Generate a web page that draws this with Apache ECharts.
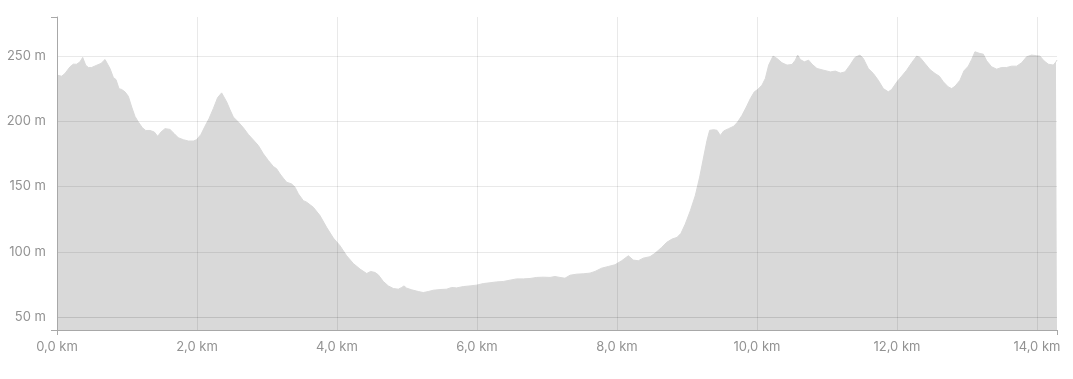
<!DOCTYPE html>
<html>
<head>
<meta charset="utf-8">
<script src="https://cdn.jsdelivr.net/npm/echarts@6/dist/echarts.min.js"></script>
<style>
  html, body { margin: 0; padding: 0; background: #fff; }
  #chart { width: 1073px; height: 379px; }
</style>
</head>
<body>
<div id="chart"></div>
<script>
// Distance along route (km)
var distanceKm = [
  0, 0.067, 0.114, 0.186, 0.233, 0.281, 0.329, 0.367, 0.41, 0.448, 0.495, 0.567, 0.629, 0.686, 0.71, 0.757,
  0.805, 0.843, 0.886, 0.924, 0.971, 1.019, 1.067, 1.114, 1.162, 1.219, 1.267, 1.329, 1.39, 1.438, 1.486,
  1.543, 1.614, 1.676, 1.733, 1.805, 1.876, 1.948, 1.995, 2.057, 2.114, 2.171, 2.233, 2.295, 2.352, 2.376,
  2.424, 2.471, 2.519, 2.59, 2.662, 2.733, 2.819, 2.876, 2.948, 3.019, 3.09, 3.138, 3.186, 3.233, 3.281,
  3.352, 3.4, 3.448, 3.519, 3.567, 3.662, 3.757, 3.852, 3.948, 4.043, 4.138, 4.233, 4.329, 4.424, 4.481,
  4.543, 4.59, 4.662, 4.733, 4.805, 4.876, 4.924, 4.957, 4.995, 5.067, 5.162, 5.233, 5.305, 5.376, 5.471,
  5.567, 5.638, 5.71, 5.805, 5.9, 5.995, 6.09, 6.186, 6.281, 6.376, 6.471, 6.567, 6.662, 6.757, 6.852,
  6.948, 7.043, 7.114, 7.186, 7.257, 7.329, 7.424, 7.519, 7.614, 7.686, 7.781, 7.876, 7.971, 8.067, 8.162,
  8.233, 8.305, 8.376, 8.471, 8.543, 8.638, 8.71, 8.786, 8.857, 8.914, 8.976, 9.048, 9.119, 9.181, 9.238,
  9.286, 9.324, 9.381, 9.429, 9.476, 9.524, 9.595, 9.667, 9.724, 9.786, 9.848, 9.905, 9.962, 10.01, 10.071,
  10.119, 10.167, 10.229, 10.286, 10.357, 10.429, 10.5, 10.548, 10.581, 10.619, 10.676, 10.738, 10.786,
  10.857, 10.952, 11.048, 11.119, 11.19, 11.257, 11.329, 11.4, 11.471, 11.519, 11.59, 11.662, 11.733,
  11.805, 11.876, 11.924, 12.0, 12.067, 12.138, 12.21, 12.281, 12.329, 12.4, 12.471, 12.543, 12.605,
  12.662, 12.733, 12.781, 12.829, 12.9, 12.957, 13.019, 13.067, 13.114, 13.186, 13.233, 13.281, 13.352,
  13.424, 13.495, 13.567, 13.638, 13.71, 13.781, 13.852, 13.924, 13.995, 14.043, 14.1, 14.162, 14.233,
  14.271, 14.286
];

// Elevation (m)
var elevationM = [
  235.4, 234.6, 236.7, 241.8, 243.8, 243.8, 245.6, 249, 243, 241.3, 241.3, 243, 244.4, 247.4, 246.4, 240.5,
  233.6, 232, 225, 224.4, 222.6, 219.2, 211, 203.8, 199.5, 195.1, 193, 193, 191.8, 188.5, 191.8,
  194.4, 193.8, 190.5, 187.4, 185.9, 184.9, 184.9, 185.9, 190, 196.2, 202, 209.7, 218.2, 221.8, 221.3,
  214.9, 209, 203.3, 199.5, 195.1, 190, 184.9, 181.5, 175.1, 170, 165.4, 163.6, 159.7, 156.4, 153.3,
  152, 149.5, 144.4, 139.2, 138, 134.1, 127.7, 118.7, 110.5, 104.6, 96.9, 91, 86.7, 83.3, 84.9,
  84.1, 82.3, 77.2, 73.8, 71.8, 71.3, 72.6, 73.8, 72.1, 70.8, 69.5, 68.7, 69.5, 70.5, 71,
  71.3, 72.6, 72.3, 73.3, 73.8, 74.4, 75.6, 76.2, 76.9, 77.2, 78.2, 79.2, 79.2, 79.5, 80.3,
  80.5, 80.3, 81, 80.3, 79.7, 82, 82.8, 83.1, 83.6, 84.9, 87.4, 88.7, 90, 93.1, 96.9,
  93.6, 93.1, 95.1, 96.2, 98.8, 103.3, 107.2, 109.7, 111, 114.1, 121.3, 131.5, 143.1, 157.2, 172.6,
  185.4, 193.1, 193.6, 193.1, 189.2, 192.6, 194.4, 196.2, 199.5, 204.6, 211, 217.4, 222.6, 224.4, 227.7,
  232.8, 243.1, 250, 248.2, 244.9, 243.1, 243.6, 246.9, 250.8, 247.4, 245.6, 246.9, 243.8,
  240.5, 239.2, 237.9, 238.5, 237, 237.9, 243.1, 249, 250.8, 248.2, 240.5, 236.7, 231.5,
  225.1, 222.6, 224.4, 230.3, 234.6, 239.2, 244.9, 250, 249, 244.4, 239.7, 236.7, 234.6,
  230.3, 226.4, 225.1, 226.9, 231.5, 238.7, 242.3, 247.4, 253.3, 252, 251.5, 246.4, 241.8,
  240, 241.3, 241.3, 242.3, 242.3, 244.9, 249.5, 250.8, 250.3, 250, 246.4, 243.8, 243.1,
  245.6, 247
];

// Tick label values
var xTickValues = [0, 2, 4, 6, 8, 10, 12, 14];
var yTickValues = [50, 100, 150, 200, 250];
var xRange = [0, 14.286];
var yRange = [40, 280];

var seriesData = distanceKm.map(function (d, i) { return [d, elevationM[i]]; });

var labelFont = { color: '#929292', fontSize: 13, fontFamily: 'Inter, "Noto Sans", sans-serif' };
var axisColor = '#a8a8a8';
var gridColor = 'rgba(0,0,0,0.085)';

var chart = echarts.init(document.getElementById('chart'), null, { renderer: 'canvas' });
chart.setOption({
  animation: false,
  backgroundColor: '#ffffff',
  grid: { left: 57, right: 16, top: 17, bottom: 49, containLabel: false },
  xAxis: [
    {
      type: 'value', min: xRange[0], max: xRange[1], z: 5,
      axisLine: { show: false },
      axisTick: { show: false, customValues: xTickValues },
      axisLabel: Object.assign({
        customValues: xTickValues, margin: 11,
        formatter: function (v) { return v.toFixed(1).replace('.', ',') + ' km'; }
      }, labelFont),
      splitLine: { show: true, lineStyle: { color: gridColor, width: 1 } }
    },
    {
      type: 'value', min: xRange[0], max: xRange[1], position: 'bottom', z: 6,
      axisLine: { show: true, onZero: false, lineStyle: { color: axisColor, width: 1 } },
      axisTick: { show: true, customValues: xRange, length: 5, lineStyle: { color: axisColor } },
      axisLabel: { show: false },
      splitLine: { show: false }
    }
  ],
  yAxis: [
    {
      type: 'value', min: yRange[0], max: yRange[1], z: 5,
      axisLine: { show: false },
      axisTick: { show: false, customValues: yTickValues },
      axisLabel: Object.assign({
        customValues: yTickValues, margin: 11,
        formatter: function (v) { return v + ' m'; }
      }, labelFont),
      splitLine: { show: true, lineStyle: { color: ['rgba(0,0,0,0.12)', gridColor, gridColor, gridColor, gridColor], width: 1 } }
    },
    {
      type: 'value', min: yRange[0], max: yRange[1], position: 'left', z: 6,
      axisLine: { show: true, onZero: false, lineStyle: { color: axisColor, width: 1 } },
      axisTick: { show: true, customValues: yRange, length: 6, lineStyle: { color: axisColor } },
      axisLabel: { show: false },
      splitLine: { show: false }
    }
  ],
  series: [
    {
      type: 'line', xAxisIndex: 0, yAxisIndex: 0, z: 1,
      data: seriesData,
      showSymbol: false, smooth: false,
      lineStyle: { color: '#d9d9d9', width: 1 },
      itemStyle: { color: '#d9d9d9' },
      areaStyle: { color: '#d9d9d9', opacity: 1, origin: 'start' }
    }
  ]
});
</script>
</body>
</html>
